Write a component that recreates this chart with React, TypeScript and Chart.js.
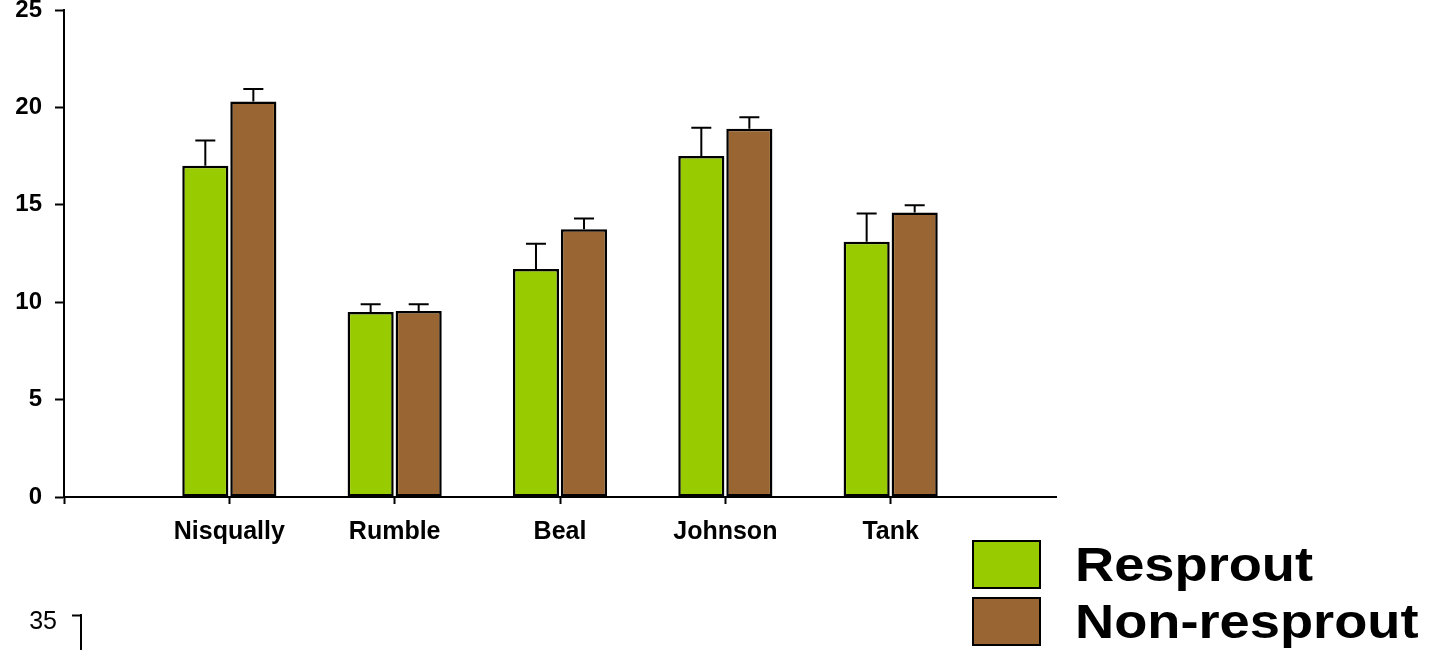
import { useEffect, useRef } from 'react';
import { Chart, registerables } from 'chart.js';

Chart.register(...registerables);

// ---- data ----
const categories = ['', 'Nisqually', 'Rumble', 'Beal', 'Johnson', 'Tank', ''];
const seriesNames = ['Resprout', 'Non-resprout'];
const resprout = [null, 17.0, 9.5, 11.7, 17.5, 13.1, null];
const resproutErr = [null, 1.3, 0.4, 1.3, 1.45, 1.45, null];
const nonResprout = [null, 20.3, 9.55, 13.75, 18.9, 14.6, null];
const nonResproutErr = [null, 0.65, 0.35, 0.55, 0.6, 0.38, null];
const yMin = 0;
const yMax = 25;
const yStep = 5;
const nextChartYMax = 35;

const FONT = '"Liberation Sans", Arial, Helvetica, sans-serif';
const GREEN = '#99CC00';
const BROWN = '#996633';

const errorBarPlugin = {
  id: 'errorBars',
  afterDatasetsDraw(chart: any, _args: any, opts: any) {
    const ctx = chart.ctx;
    const y = chart.scales.y;
    const errs = opts.errors || [];
    chart.data.datasets.forEach((ds: any, i: number) => {
      const meta = chart.getDatasetMeta(i);
      meta.data.forEach((el: any, j: number) => {
        const v = ds.data[j];
        const e = errs[i] ? errs[i][j] : null;
        if (v == null || e == null) return;
        const top = y.getPixelForValue(v);
        const end = y.getPixelForValue(v + e);
        ctx.save();
        ctx.strokeStyle = '#000';
        ctx.lineWidth = 2;
        ctx.beginPath();
        ctx.moveTo(el.x, top);
        ctx.lineTo(el.x, end);
        ctx.moveTo(el.x - 10, end);
        ctx.lineTo(el.x + 10, end);
        ctx.stroke();
        ctx.restore();
      });
    });
  },
};

const boxLegendPlugin = {
  id: 'boxLegend',
  afterDraw(chart: any, _args: any, opts: any) {
    const ctx = chart.ctx;
    chart.data.datasets.forEach((ds: any, i: number) => {
      const bx = opts.x;
      const by = opts.y + i * opts.rowGap;
      ctx.save();
      ctx.fillStyle = ds.backgroundColor;
      ctx.fillRect(bx, by, opts.boxW, opts.boxH);
      ctx.strokeStyle = '#000';
      ctx.lineWidth = 2;
      ctx.strokeRect(bx, by, opts.boxW, opts.boxH);
      ctx.fillStyle = '#000';
      ctx.font = `bold ${opts.fontSize}px ${FONT}`;
      ctx.textBaseline = 'middle';
      ctx.textAlign = 'left';
      ctx.translate(opts.textX, by + opts.boxH / 2 - opts.textLift);
      ctx.scale(opts.stretch, 1);
      ctx.fillText(ds.label, 0, 0);
      ctx.restore();
    });
  },
};

const noScalePad = (s: any) => {
  s.paddingTop = 0;
  s.paddingBottom = 0;
};

export default function App() {
  const mainRef = useRef<HTMLCanvasElement>(null);
  const nextRef = useRef<HTMLCanvasElement>(null);

  useEffect(() => {
    const main = new Chart(mainRef.current as HTMLCanvasElement, {
      type: 'bar',
      data: {
        labels: categories,
        datasets: [
          {
            label: seriesNames[0],
            data: resprout,
            backgroundColor: GREEN,
            borderColor: '#000',
            borderWidth: 2.5,
            borderSkipped: false,
          },
          {
            label: seriesNames[1],
            data: nonResprout,
            backgroundColor: BROWN,
            borderColor: '#000',
            borderWidth: 2.5,
            borderSkipped: false,
          },
        ],
      } as any,
      options: {
        responsive: false,
        animation: false,
        events: [],
        devicePixelRatio: 1,
        layout: { autoPadding: false, padding: { top: 10, right: 385, left: 0, bottom: 0 } } as any,
        datasets: { bar: { categoryPercentage: 0.581, barPercentage: 0.96 } },
        plugins: {
          legend: { display: false },
          tooltip: { enabled: false },
          errorBars: { errors: [resproutErr, nonResproutErr] },
          boxLegend: {
            x: 973, y: 541, rowGap: 57, boxW: 67, boxH: 47,
            textX: 1075, fontSize: 48, stretch: 1.13, textLift: -3,
          },
        } as any,
        scales: {
          x: {
            type: 'category',
            offset: false,
            grid: {
              offset: false,
              drawOnChartArea: false,
              drawTicks: true,
              tickLength: 7,
              tickWidth: 2,
              tickColor: (c: any) => (c.index === categories.length - 1 ? 'rgba(0,0,0,0)' : '#000'),
            },
            border: { display: true, color: '#000', width: 2 },
            ticks: {
              autoSkip: false,
              maxRotation: 0,
              padding: 13,
              color: '#000',
              font: { family: FONT, size: 25, weight: 'bold' },
            },
            afterFit: (s: any) => { s.height = 153; },
          },
          y: {
            min: yMin,
            max: yMax,
            grid: {
              drawOnChartArea: false,
              drawTicks: true,
              tickLength: 9,
              tickWidth: 2,
              tickColor: '#000',
            },
            border: { display: true, color: '#000', width: 2 },
            ticks: {
              stepSize: yStep,
              padding: 13,
              color: '#000',
              font: { family: FONT, size: 24, weight: 'bold' },
            },
            afterFit: (s: any) => { s.width = 64; noScalePad(s); },
          },
        } as any,
      },
      plugins: [errorBarPlugin, boxLegendPlugin],
    });

    const next = new Chart(nextRef.current as HTMLCanvasElement, {
      type: 'bar',
      data: { labels: [''], datasets: [{ data: [null] as any }] },
      options: {
        responsive: false,
        animation: false,
        events: [],
        devicePixelRatio: 1,
        layout: { autoPadding: false, padding: { top: 15, right: 385, left: 0, bottom: 0 } } as any,
        plugins: { legend: { display: false }, tooltip: { enabled: false } },
        scales: {
          x: { display: false },
          y: {
            min: 0,
            max: nextChartYMax,
            grid: { drawOnChartArea: false, tickLength: 9, tickWidth: 2, tickColor: '#000' },
            border: { display: true, color: '#000', width: 2 },
            ticks: {
              stepSize: 5,
              padding: 15,
              labelOffset: 7,
              color: '#000',
              font: { family: FONT, size: 25 },
            },
            afterFit: (s: any) => { s.width = 81; noScalePad(s); },
          },
        } as any,
      },
    });

    return () => {
      main.destroy();
      next.destroy();
    };
  }, []);

  return (
    <div
      style={{
        position: 'fixed',
        left: 0,
        top: 0,
        width: 1441,
        height: 650,
        overflow: 'hidden',
        background: '#fff',
      }}
    >
      <canvas
        ref={mainRef}
        width={1441}
        height={650}
        style={{ position: 'absolute', left: 0, top: 0, width: 1441, height: 650 }}
      />
      <canvas
        ref={nextRef}
        width={1441}
        height={400}
        style={{ position: 'absolute', left: 0, top: 600, width: 1441, height: 400 }}
      />
    </div>
  );
}
